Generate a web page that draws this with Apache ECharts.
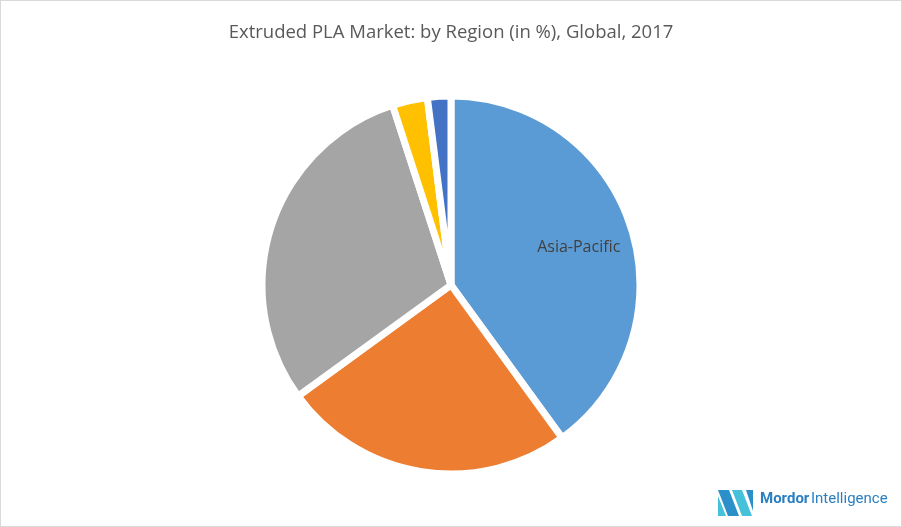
<!DOCTYPE html>
<html>
<head>
<meta charset="utf-8">
<script src="https://cdn.jsdelivr.net/npm/echarts@6/dist/echarts.min.js"></script>
<style>
html,body{margin:0;padding:0;background:#fff;}
#c{width:900px;height:525px;border:1px solid #d9d9d9;}
</style>
</head>
<body>
<div id="c"></div>
<script>
const titleText = 'Extruded PLA Market: by Region (in %), Global, 2017';
const regions = ['Asia-Pacific', 'Europe', 'North America', 'South America', 'Middle East & Africa'];
const shares = [40, 25, 30, 3, 2];
const colors = ['#5b9bd5', '#ed7d31', '#a5a5a5', '#ffc000', '#4472c4'];
const shownLabels = ['Asia-Pacific'];

const chart = echarts.init(document.getElementById('c'));
chart.setOption({
  animation: false,
  title: {
    text: titleText,
    left: 'center',
    top: 17,
    textStyle: {fontFamily: 'Open Sans', fontSize: 18.5, fontWeight: 'normal', color: '#595959'}
  },
  series: [{
    type: 'pie',
    center: [450, 284],
    radius: [0, 189],
    startAngle: 90,
    clockwise: true,
    data: regions.map((r, i) => ({
      name: r,
      value: shares[i],
      itemStyle: {color: colors[i]},
      label: {show: shownLabels.includes(r)}
    })),
    itemStyle: {borderColor: '#ffffff', borderWidth: 7},
    label: {
      position: 'inside',
      formatter: '{b}',
      fontFamily: 'Open Sans',
      fontSize: 16,
      color: '#404040'
    },
    labelLayout: {dx: 35, dy: -7},
    labelLine: {show: false}
  }],
  graphic: [
    {type: 'polygon', shape: {points: [[717,489],[728,489],[738,515],[727,515]]}, style: {fill: '#2b8fc9'}},
    {type: 'polygon', shape: {points: [[717,495],[717,515],[725,515]]}, style: {fill: '#45c1d9'}},
    {type: 'polygon', shape: {points: [[731,489],[741,489],[751,515],[741,515]]}, style: {fill: '#45c1d9'}},
    {type: 'polygon', shape: {points: [[745,489],[752,489],[752,510]]}, style: {fill: '#2b8fc9'}},
    {type: 'text', left: 759, top: 491, style: {text: 'Mordor', fontFamily: 'Roboto', fontWeight: 'bold', fontSize: 15, fill: '#2b7fc0'}},
    {type: 'text', left: 810, top: 491, style: {text: 'Intelligence', fontFamily: 'Roboto', fontSize: 15, fill: '#2b7fc0'}}
  ]
});
</script>
</body>
</html>
